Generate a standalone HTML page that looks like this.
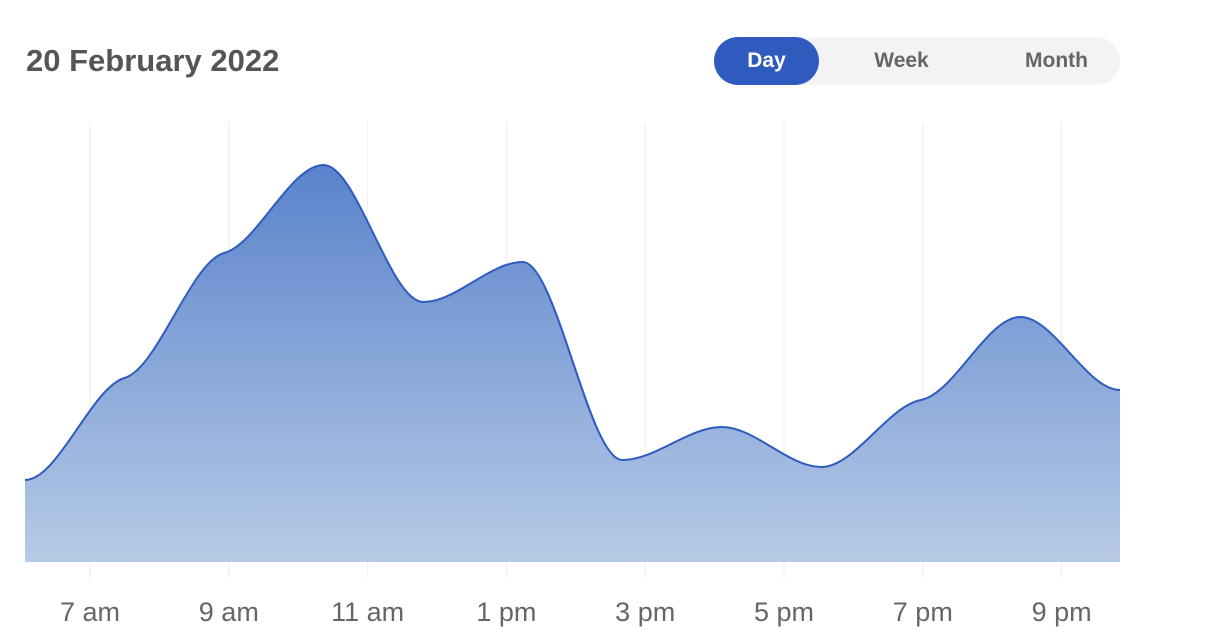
<!DOCTYPE html>
<html><head><meta charset="utf-8"><style>
body{margin:0;width:1208px;height:634px;background:#fff;font-family:"Liberation Sans",sans-serif;overflow:hidden;position:relative}
.title{position:absolute;left:26px;top:43px;font-size:31px;font-weight:bold;color:#555}
.toggle{position:absolute;left:714px;top:37px;width:406px;height:48px;border-radius:24px;background:#f3f3f6}
.opt{position:absolute;top:0;height:48px;line-height:48px;font-size:21px;font-weight:bold;color:#666;text-align:center}
.day{left:0;width:105px;background:#2f5bbf;color:#fff;border-radius:24px}
</style></head><body>
<div class="title">20 February 2022</div>
<div class="toggle">
<div class="opt day">Day</div>
<div class="opt" style="left:135px;width:105px">Week</div>
<div class="opt" style="left:290px;width:105px">Month</div>
</div>
<svg id="chart" width="1208" height="634" style="position:absolute;left:0;top:0">
<defs><linearGradient id="g" x1="0" y1="0" x2="0" y2="1"><stop offset="0" stop-color="#5a83cc"/><stop offset="1" stop-color="#b7cbe6"/></linearGradient></defs>
</svg>
<script>
const tickLabels=["7 am","9 am","11 am","1 pm","3 pm","5 pm","7 pm","9 pm"];
const tickHours=[7,9,11,13,15,17,19,21];
const values=[82,184,309,397,260,300,102,135,95,162,245,172];
const svg=document.getElementById('chart');
const NS="http://www.w3.org/2000/svg";
const x0=25,x1=1120,yBase=562,yMax=440;
const xPt=i=>x0+i*(x1-x0)/(values.length-1);
const xHour=h=>90+(h-7)*69.4;
const y=v=>yBase-v*(440/yMax);
tickHours.forEach((h,i)=>{
 const l=document.createElementNS(NS,'line');
 
 
 l.setAttribute('x1',xHour(h));l.setAttribute('x2',xHour(h));l.setAttribute('y1',122);l.setAttribute('y2',578);
 l.setAttribute('stroke','#eeeeee');l.setAttribute('stroke-width','1');svg.appendChild(l);
 const t=document.createElementNS(NS,'text');
 
 
 t.setAttribute('x',xHour(h));t.setAttribute('y',621);t.setAttribute('text-anchor','middle');
 t.setAttribute('font-size','27');t.setAttribute('fill','#666');t.setAttribute('font-family','Liberation Sans, sans-serif');
 t.textContent=tickLabels[i];svg.appendChild(t);
});
const n=values.length,px=values.map((v,i)=>xPt(i)),py=values.map(v=>y(v));
const s=[];for(let i=0;i<n-1;i++)s.push((py[i+1]-py[i])/(px[i+1]-px[i]));
const m=[];
for(let i=0;i<n;i++){
 if(i==0||i==n-1)m.push(0);
 else{const a=s[i-1],b=s[i];m.push(a*b<=0?0:0.25*(a+b)/2);}
}
let d=`M${px[0]},${py[0]}`;
for(let i=0;i<n-1;i++){const h=(px[i+1]-px[i])/3;
 d+=` C${px[i]+h},${py[i]+m[i]*h} ${px[i+1]-h},${py[i+1]-m[i+1]*h} ${px[i+1]},${py[i+1]}`;}
const area=document.createElementNS(NS,'path');


area.setAttribute('d',d+` L${px[n-1]},${yBase} L${px[0]},${yBase} Z`);area.setAttribute('fill','url(#g)');svg.appendChild(area);
const line=document.createElementNS(NS,'path');


line.setAttribute('d',d);line.setAttribute('fill','none');line.setAttribute('stroke','#2f5bbf');line.setAttribute('stroke-width','2');svg.appendChild(line);
</script>
</body></html>
